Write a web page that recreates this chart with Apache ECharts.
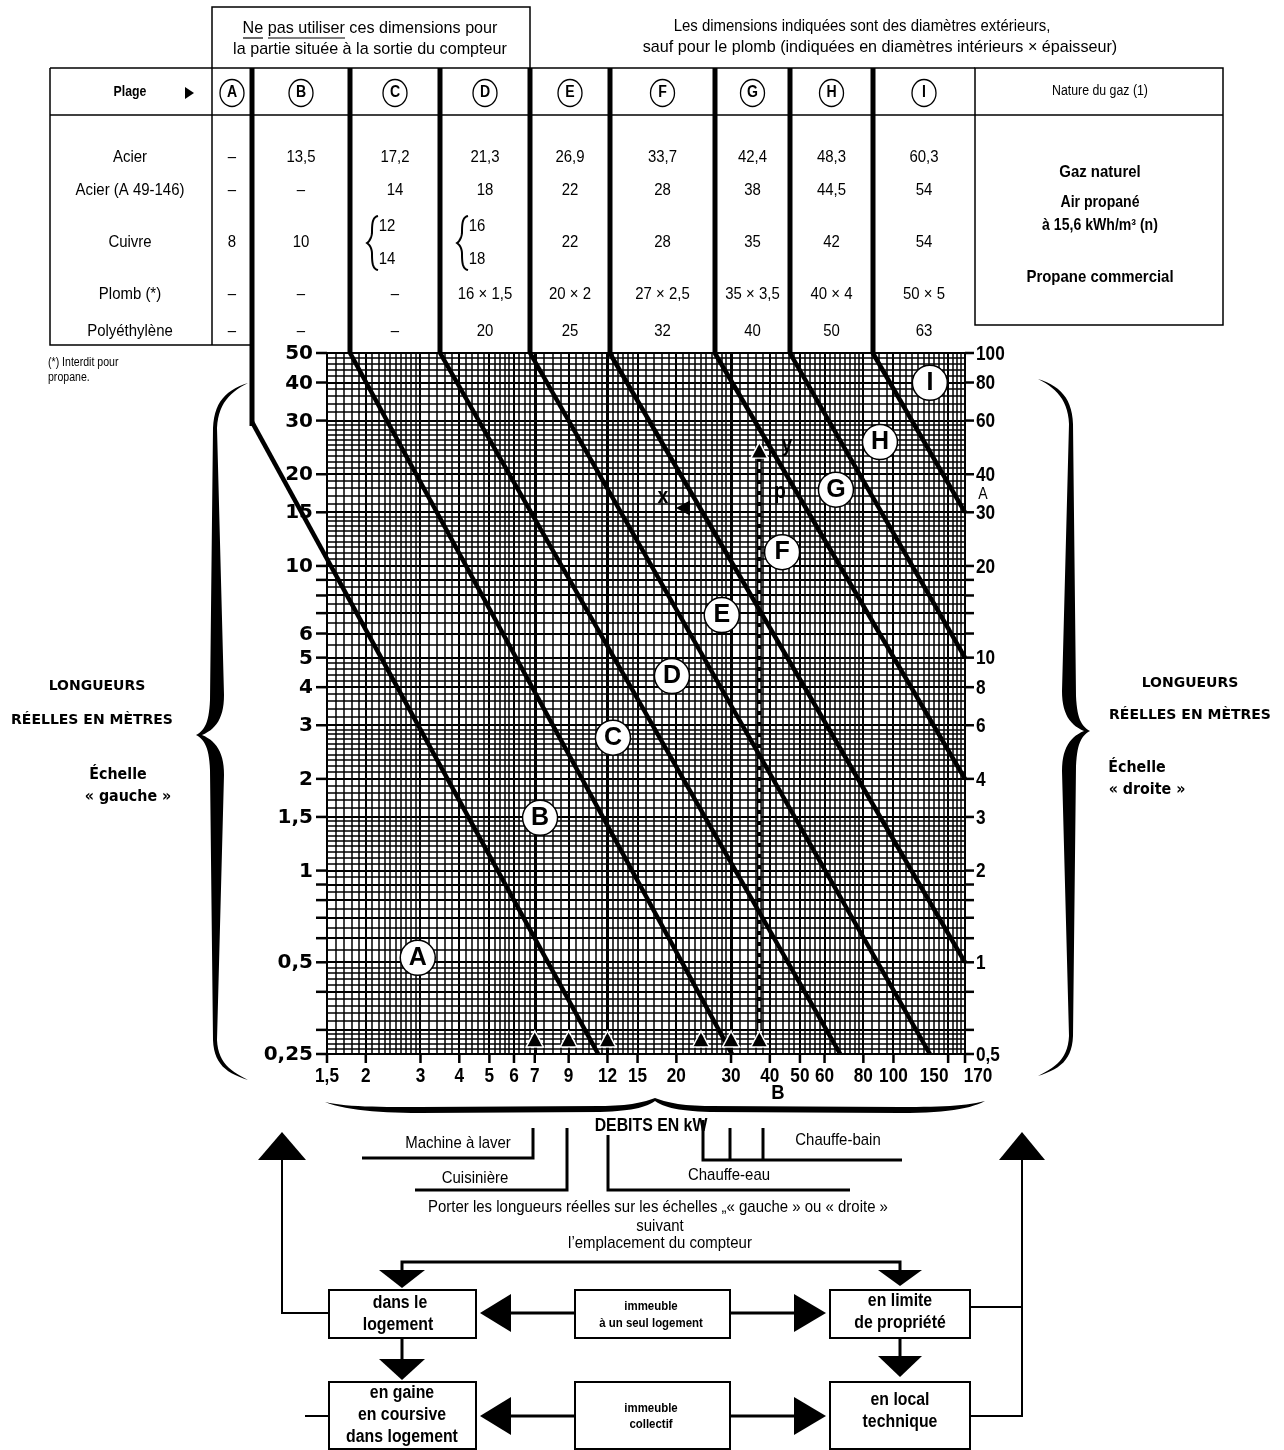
<!DOCTYPE html>
<html>
<head>
<meta charset="utf-8">
<script src="https://cdn.jsdelivr.net/npm/echarts@6/dist/echarts.min.js"></script>
<style>
html, body { margin: 0; padding: 0; background: #fff; }
#main { width: 1284px; height: 1450px; }
</style>
</head>
<body>
<div id="main"></div>
<script>
const xTickLabels = [1.5, 2, 3, 4, 5, 6, 7, 9, 12, 15, 20, 30, 40, 50, 60, 80, 100, 150, 170];
const xHeavyLines = [7, 12, 30];
const xMinorGrid = [1.6, 1.7, 1.8, 1.9, 2.1, 2.2, 2.3, 2.4, 2.5, 2.6, 2.7, 2.8, 2.9,
  3.2, 3.4, 3.6, 3.8, 4.2, 4.4, 4.6, 4.8, 5.2, 5.4, 5.6, 5.8, 6.25, 6.5, 6.75,
  7.5, 8, 8.5, 9.5, 10, 10.5, 11, 11.5, 12.5, 13, 13.5, 14, 14.5, 16, 17, 18, 19,
  21, 22, 23, 24, 25, 26, 27, 28, 29, 32, 34, 36, 38, 42, 44, 46, 48, 52, 54, 56, 58,
  62.5, 65, 67.5, 70, 72.5, 75, 77.5, 85, 90, 95, 105, 110, 115, 120, 125, 130, 135, 140, 145,
  155, 160, 165];

const yLeftTicks = [50, 40, 30, 20, 15, 10, 9, 8, 7, 6, 5, 4, 3, 2, 1.5, 1, 0.9, 0.8, 0.7, 0.6, 0.5, 0.4, 0.3, 0.25];
const yLeftLabels = [50, 40, 30, 20, 15, 10, 6, 5, 4, 3, 2, 1.5, 1, 0.5, 0.25];
const yRightTicks = [100, 80, 60, 40, 30, 20, 18, 16, 14, 12, 10, 8, 6, 4, 3, 2, 1.8, 1.6, 1.4, 1.2, 1, 0.8, 0.6, 0.5];
const yRightLabels = [100, 80, 60, 40, 30, 20, 10, 8, 6, 4, 3, 2, 1, 0.5];
const yMinorGrid = [48, 46, 44, 42, 38, 36, 34, 32, 29, 28, 27, 26, 25, 24, 23, 22, 21,
  19, 18, 17, 16, 14.5, 14, 13.5, 13, 12.5, 12, 11.5, 11, 10.5, 9.5, 8.5, 7.5, 6.5, 5.5,
  4.8, 4.6, 4.4, 4.2, 3.8, 3.6, 3.4, 3.2, 2.9, 2.8, 2.7, 2.6, 2.5, 2.4, 2.3, 2.2, 2.1,
  1.9, 1.8, 1.7, 1.6, 1.45, 1.4, 1.35, 1.3, 1.25, 1.2, 1.15, 1.1, 1.05,
  0.95, 0.85, 0.75, 0.65, 0.55, 0.48, 0.46, 0.44, 0.42, 0.38, 0.36, 0.34, 0.32, 0.29, 0.28, 0.27, 0.26];

// limites de plages (débit kW, longueur m échelle gauche)
const limitStart = [[0.86, 29.7], [1.78, 50], [3.47, 50], [6.76, 50], [12.2, 50], [26.6, 50], [46.4, 50], [85.8, 50]];
const limitEnd = [[11.2, 0.25], [30.2, 0.25], [67.4, 0.25], [131, 0.25], [170, 0.5], [170, 2], [170, 5], [170, 15]];

const zoneLetters = ['A', 'B', 'C', 'D', 'E', 'F', 'G', 'H', 'I'];
const zoneX = [2.94, 7.28, 12.5, 19.35, 28.0, 43.8, 65.3, 90.5, 131];
const zoneY = [0.517, 1.49, 2.73, 4.35, 6.9, 11.1, 17.8, 25.5, 39.9];

const applianceKW = [7, 9, 12, 24, 30, 37];
const exampleKW = 37;
const exampleLength = [0.3, 23];
const exampleArrowLeft = [21, 15.5];

// tableau des diamètres
const tableRows = ['Acier', 'Acier (A 49-146)', 'Cuivre', 'Plomb (*)', 'Polyéthylène'];
const acier = ['–', '13,5', '17,2', '21,3', '26,9', '33,7', '42,4', '48,3', '60,3'];
const acierA49 = ['–', '–', '14', '18', '22', '28', '38', '44,5', '54'];
const cuivre = ['8', '10', ['12', '14'], ['16', '18'], '22', '28', '35', '42', '54'];
const plomb = ['–', '–', '–', '16 × 1,5', '20 × 2', '27 × 2,5', '35 × 3,5', '40 × 4', '50 × 5'];
const polyethylene = ['–', '–', '–', '20', '25', '32', '40', '50', '63'];
const gasTypes = ['Gaz naturel', 'Air propané', 'à 15,6 kWh/m³ (n)', 'Propane commercial'];

const X_MIN = 1.5, X_MAX = 170, YL_MIN = 0.25, YL_MAX = 50, YR_MIN = 0.5, YR_MAX = 100;
const NARROW = "'Liberation Sans', Arial, sans-serif";
const HEAVY = "'DejaVu Sans', 'Liberation Sans', sans-serif";
const labelShift = { 150: -14, 170: 13 };

function fmt(v) { return String(v).replace('.', ','); }
function crisp(v, w) { return w % 2 === 1 ? Math.round(v) + 0.5 : Math.round(v); }

// ---- séries du quadrillage / graduations
function gridSeries(values, vertical, width) {
  return {
    type: 'custom', silent: true, clip: false, z: 1,
    data: values.map(v => vertical ? [v, YL_MIN] : [X_MIN, v]),
    renderItem: function (params, api) {
      const v = api.value(vertical ? 0 : 1);
      const a = vertical ? api.coord([v, YL_MIN]) : api.coord([X_MIN, v]);
      const b = vertical ? api.coord([v, YL_MAX]) : api.coord([X_MAX, v]);
      const shape = vertical
        ? { x1: crisp(a[0], width), y1: a[1], x2: crisp(a[0], width), y2: b[1] }
        : { x1: a[0], y1: crisp(a[1], width), x2: b[0], y2: crisp(a[1], width) };
      return { type: 'line', shape: shape, style: { stroke: '#000', lineWidth: width } };
    }
  };
}

function tickSeries(values, side) {
  const s = {
    type: 'custom', silent: true, clip: false, z: 3,
    data: values.map(v => side === 'bottom' ? [v, YL_MIN] : side === 'left' ? [X_MIN, v] : [X_MAX, v]),
    renderItem: function (params, api) {
      const p = api.coord([api.value(0), api.value(1)]);
      let shape;
      if (side === 'left') shape = { x1: p[0] - 11, y1: p[1], x2: p[0], y2: p[1] };
      else if (side === 'right') shape = { x1: p[0], y1: p[1], x2: p[0] + 9, y2: p[1] };
      else shape = { x1: p[0], y1: p[1], x2: p[0], y2: p[1] + 9 };
      return { type: 'line', shape: shape, style: { stroke: '#000', lineWidth: 2.5 } };
    }
  };
  if (side === 'right') s.yAxisIndex = 1;
  return s;
}

function labelSeries(values, side) {
  const s = {
    type: 'custom', silent: true, clip: false, z: 3,
    data: values.map(v => side === 'bottom' ? [v, YL_MIN] : side === 'left' ? [X_MIN, v] : [X_MAX, v]),
    renderItem: function (params, api) {
      const v = side === 'bottom' ? api.value(0) : api.value(1);
      const p = api.coord([api.value(0), api.value(1)]);
      if (side === 'left') {
        return { type: 'text', x: p[0] - 14, y: p[1] + 1,
          style: { text: fmt(v), font: 'bold 20px ' + HEAVY, fill: '#000', align: 'right', textAlign: 'right', verticalAlign: 'middle', textVerticalAlign: 'middle' } };
      }
      if (side === 'right') {
        return { type: 'text', x: p[0] + 11, y: p[1] + 1, scaleX: 0.82,
          style: { text: fmt(v), font: 'bold 21px ' + NARROW, fill: '#000', align: 'left', textAlign: 'left', verticalAlign: 'middle', textVerticalAlign: 'middle' } };
      }
      return { type: 'text', x: p[0] + (labelShift[v] || 0), y: p[1] + 22, scaleX: 0.82,
        style: { text: fmt(v), font: 'bold 21px ' + NARROW, fill: '#000', align: 'center', textAlign: 'center', verticalAlign: 'middle', textVerticalAlign: 'middle' } };
    }
  };
  if (side === 'right') s.yAxisIndex = 1;
  return s;
}

const series = [
  gridSeries(xMinorGrid, true, 1.5),
  gridSeries(yMinorGrid, false, 1.5),
  gridSeries(xTickLabels, true, 2),
  gridSeries(yLeftTicks, false, 2),
  gridSeries(xHeavyLines, true, 3),
  tickSeries(yLeftTicks, 'left'),
  tickSeries(yRightTicks, 'right'),
  tickSeries(xTickLabels, 'bottom'),
  labelSeries(yLeftLabels, 'left'),
  labelSeries(yRightLabels, 'right'),
  labelSeries(xTickLabels, 'bottom')
];

// exemple : trait vertical pointillé
series.push({ type: 'line', silent: true, z: 4, symbol: 'none', clip: false,
  data: [[exampleKW, exampleLength[0]], [exampleKW, exampleLength[1]]],
  lineStyle: { color: '#000', width: 5 } });
series.push({ type: 'line', silent: true, z: 4, symbol: 'none', clip: false,
  data: [[exampleKW, exampleLength[0]], [exampleKW, exampleLength[1]]],
  lineStyle: { color: '#fff', width: 2, type: [7, 4] } });

// limites de plages (custom pour pouvoir sortir du cadre)
series.push({
  type: 'custom', silent: true, clip: false, z: 5,
  data: limitStart.map((s, i) => [s[0], s[1], limitEnd[i][0], limitEnd[i][1]]),
  renderItem: function (params, api) {
    const a = api.coord([api.value(0), api.value(1)]);
    const b = api.coord([api.value(2), api.value(3)]);
    return { type: 'line', shape: { x1: a[0], y1: a[1], x2: b[0], y2: b[1] },
      style: { stroke: '#000', lineWidth: 4.5 } };
  }
});

series.push({ type: 'scatter', silent: true, z: 8, symbol: 'triangle', symbolSize: [17, 16],
  itemStyle: { color: '#000', borderColor: '#fff', borderWidth: 1.5, opacity: 1 },
  data: applianceKW.map(v => [v, 0.28]).concat([[exampleKW, exampleLength[1] + 1]]) });
series.push({ type: 'scatter', silent: true, z: 8, symbol: 'triangle', symbolSize: [15, 14], symbolRotate: 90,
  itemStyle: { color: '#000', opacity: 1 }, data: [exampleArrowLeft] });

series.push({ type: 'scatter', silent: true, z: 9, symbol: 'circle', symbolSize: 35,
  itemStyle: { color: '#fff', borderColor: '#000', borderWidth: 1.5, opacity: 1 },
  label: { show: true, position: 'inside', formatter: p => p.value[2], color: '#000',
    fontFamily: NARROW, fontWeight: 'bold', fontSize: 25 },
  data: zoneX.map((x, i) => [x, zoneY[i], zoneLetters[i]]) });

// ---- éléments graphiques (tableau, accolades, organigramme)
const g = [];
function T(s, x, y, size, o) {
  o = o || {};
  g.push({ type: 'text', x: x, y: y, scaleX: o.sx == null ? 0.88 : o.sx, silent: true, z: 50,
    style: { text: s, fill: '#000', font: (o.bold ? 'bold ' : '') + size + 'px ' + (o.family || NARROW),
      align: o.align || 'center', textAlign: o.align || 'center', verticalAlign: 'middle', textVerticalAlign: 'middle' } });
}
function PL(points, w) {
  g.push({ type: 'polyline', silent: true, z: 50, shape: { points: points },
    style: { stroke: '#000', lineWidth: w || 1.5, fill: null } });
}
function PG(points) {
  g.push({ type: 'polygon', silent: true, z: 50, shape: { points: points }, style: { fill: '#000' } });
}
function RC(x, y, w, h, lw) {
  g.push({ type: 'rect', silent: true, z: 49, shape: { x: x, y: y, width: w, height: h },
    style: { fill: '#fff', stroke: '#000', lineWidth: lw || 2 } });
}
function bez(a, b, c, d, n) {
  const pts = [];
  for (let i = 0; i <= n; i++) {
    const t = i / n, u = 1 - t;
    pts.push([u * u * u * a[0] + 3 * u * u * t * b[0] + 3 * u * t * t * c[0] + t * t * t * d[0],
      u * u * u * a[1] + 3 * u * u * t * b[1] + 3 * u * t * t * c[1] + t * t * t * d[1]]);
  }
  return pts;
}
function outline(segs) {
  let pts = [];
  segs.forEach(s => { pts = pts.concat(s.length === 4 ? bez(s[0], s[1], s[2], s[3], 14) : s); });
  return pts;
}

// accolade gauche / droite
const leftBrace = outline([
  [[248, 383], [226, 390], [214, 402], [213, 428]],
  [[213, 428], [210, 700]],
  [[210, 700], [209, 722], [205, 730], [196, 735]],
  [[196, 735], [205, 740], [209, 748], [210, 770]],
  [[210, 770], [213, 1040]],
  [[213, 1040], [214, 1064], [226, 1073], [248, 1080]],
  [[248, 1080], [230, 1071], [218, 1062], [217, 1040]],
  [[217, 1040], [224, 775]],
  [[224, 775], [224, 752], [216, 741], [202, 735]],
  [[202, 735], [216, 729], [224, 718], [224, 695]],
  [[224, 695], [217, 428]],
  [[217, 428], [218, 404], [230, 392], [248, 383]]
]);
PG(leftBrace);
PG(leftBrace.map(p => [1286 - p[0], p[1] - 4]));
// accolade horizontale sous l'axe
PG(outline([
  [[325, 1102], [345, 1110], [380, 1113], [420, 1113]],
  [[420, 1113], [600, 1112]],
  [[600, 1112], [630, 1111], [645, 1108], [655, 1101]],
  [[655, 1101], [665, 1108], [680, 1111], [710, 1112]],
  [[710, 1112], [900, 1113]],
  [[900, 1113], [945, 1113], [970, 1109], [985, 1101]],
  [[985, 1101], [965, 1106], [940, 1107], [900, 1107]],
  [[900, 1107], [710, 1106]],
  [[710, 1106], [685, 1106], [668, 1103], [655, 1098]],
  [[655, 1098], [642, 1103], [625, 1106], [600, 1106]],
  [[600, 1106], [420, 1107]],
  [[420, 1107], [380, 1107], [345, 1107], [325, 1102]]
]));

// en-têtes
PL([[212, 68], [212, 7], [530, 7], [530, 68]], 1.5);
T('Ne pas utiliser ces dimensions pour', 370, 28, 17, { sx: 0.95 });
T('la partie située à la sortie du compteur', 370, 49, 17, { sx: 0.95 });
PL([[243, 38], [263, 38]], 1.2);
PL([[268, 38], [345, 38]], 1.2);
T('Les dimensions indiquées sont des diamètres extérieurs,', 862, 26, 17);
T('sauf pour le plomb (indiquées en diamètres intérieurs × épaisseur)', 880, 47, 17, { sx: 0.95 });

// tableau
const colB = [212, 252, 350, 440, 530, 610, 715, 790, 873, 975];
const colC = zoneLetters.map((l, i) => (colB[i] + colB[i + 1]) / 2);
PL([[50, 68], [975, 68]]);
PL([[50, 115], [975, 115]]);
PL([[50, 68], [50, 345], [252, 345]]);
PL([[212, 68], [212, 345]]);
RC(975, 68, 248, 257, 1.5);
PL([[975, 115], [1223, 115]]);
[350, 440, 530, 610, 715, 790, 873].forEach(x => PL([[x, 68], [x, 354]], 5));
PL([[252, 68], [252, 426]], 5);

T('Plage', 130, 92, 14, { bold: true });
PG([[185, 87], [185, 99], [194, 93]]);
zoneLetters.forEach(function (l, i) {
  g.push({ type: 'circle', silent: true, z: 50, x: colC[i], y: 93, scaleY: 1.12,
    shape: { cx: 0, cy: 0, r: 12 }, style: { fill: '#fff', stroke: '#000', lineWidth: 1.3 } });
  T(l, colC[i], 93, 16, { bold: true });
});
T('Nature du gaz (1)', 1100, 91, 14);

const rowY = [157, 190, 242, 294, 331];
tableRows.forEach((r, i) => T(r, 130, rowY[i], 17));
[acier, acierA49, cuivre, plomb, polyethylene].forEach(function (row, ri) {
  row.forEach(function (v, ci) {
    if (Array.isArray(v)) {
      T(v[0], colC[ci] - 8, 226, 17);
      T(v[1], colC[ci] - 8, 259, 17);
      const bx = colC[ci] - 25;
      PL(outline([[[bx + 8, 216], [bx + 3, 217], [bx + 2, 222], [bx + 2, 232]],
        [[bx + 2, 232], [bx + 2, 236], [bx, 241], [bx - 3, 243]],
        [[bx - 3, 243], [bx, 245], [bx + 2, 249], [bx + 2, 254]],
        [[bx + 2, 254], [bx + 2, 264], [bx + 3, 269], [bx + 8, 270]]]), 2);
    } else {
      T(v, colC[ci], rowY[ri], 17);
    }
  });
});
T(gasTypes[0], 1100, 172, 17, { bold: true });
T(gasTypes[1], 1100, 203, 16, { bold: true });
T(gasTypes[2], 1100, 226, 16, { bold: true });
T(gasTypes[3], 1100, 277, 17, { bold: true });
T('(*) Interdit pour', 48, 363, 12, { align: 'left' });
T('propane.', 48, 378, 12, { align: 'left' });

// textes latéraux
T('LONGUEURS', 97, 686, 14, { bold: true, family: HEAVY, sx: 1 });
T('RÉELLES EN MÈTRES', 92, 720, 14, { bold: true, family: HEAVY, sx: 1 });
T('Échelle', 118, 775, 15, { bold: true, family: HEAVY, sx: 0.95 });
T('« gauche »', 128, 797, 15, { bold: true, family: HEAVY, sx: 0.95 });
T('LONGUEURS', 1190, 683, 14, { bold: true, family: HEAVY, sx: 1 });
T('RÉELLES EN MÈTRES', 1190, 715, 14, { bold: true, family: HEAVY, sx: 1 });
T('Échelle', 1137, 768, 15, { bold: true, family: HEAVY, sx: 0.95 });
T('« droite »', 1147, 790, 15, { bold: true, family: HEAVY, sx: 0.95 });

// annotations de l'exemple
T('x', 663, 497, 22, { bold: true });
T('y', 787, 445, 22, { bold: true });
T('p', 780, 492, 22, { bold: true });
T('A', 983, 495, 16);
T('B', 778, 1093, 21, { bold: true });

// appareils
T('DEBITS EN kW', 651, 1126, 18, { bold: true });
T('Machine à laver', 458, 1143, 17);
PL([[362, 1158], [533, 1158], [533, 1128]], 3);
T('Cuisinière', 475, 1178, 17);
PL([[415, 1190], [567, 1190], [567, 1128]], 3);
T('Chauffe-eau', 729, 1175, 17);
PL([[608, 1135], [608, 1190], [850, 1190]], 3);
T('Chauffe-bain', 838, 1140, 17);
PL([[703, 1120], [703, 1160], [902, 1160]], 3);
PL([[730, 1128], [730, 1160]], 3);
PL([[763, 1128], [763, 1160]], 3);
T('Porter les longueurs réelles sur les échelles „« gauche » ou « droite »', 658, 1207, 17);
T('suivant', 660, 1226, 17);
T('l’emplacement du compteur', 660, 1243, 17);

// organigramme
PL([[402, 1272], [402, 1262], [900, 1262], [900, 1272]], 3);
PG([[379, 1270], [425, 1270], [402, 1288]]);
PG([[878, 1270], [922, 1270], [900, 1286]]);
RC(329, 1290, 147, 48);
RC(575, 1290, 155, 48);
RC(830, 1290, 140, 48);
T('dans le', 400, 1303, 18, { bold: true });
T('logement', 398, 1325, 18, { bold: true });
T('immeuble', 651, 1306, 13, { bold: true });
T('à un seul logement', 651, 1323, 13, { bold: true });
T('en limite', 900, 1301, 18, { bold: true });
T('de propriété', 900, 1323, 18, { bold: true });
PL([[510, 1313], [575, 1313]], 3);
PG([[480, 1313], [511, 1294], [511, 1332]]);
PL([[730, 1313], [795, 1313]], 3);
PG([[826, 1313], [794, 1294], [794, 1332]]);
PL([[402, 1338], [402, 1360]], 3);
PG([[379, 1359], [425, 1359], [402, 1380]]);
PL([[900, 1338], [900, 1357]], 3);
PG([[878, 1356], [922, 1356], [900, 1377]]);
RC(329, 1382, 147, 67);
RC(575, 1382, 155, 67);
RC(830, 1382, 140, 67);
T('en gaine', 402, 1393, 18, { bold: true });
T('en coursive', 402, 1415, 18, { bold: true });
T('dans logement', 402, 1437, 18, { bold: true });
T('immeuble', 651, 1408, 13, { bold: true });
T('collectif', 651, 1424, 13, { bold: true });
T('en local', 900, 1400, 18, { bold: true });
T('technique', 900, 1422, 18, { bold: true });
PL([[510, 1416], [575, 1416]], 3);
PG([[480, 1416], [511, 1397], [511, 1435]]);
PL([[730, 1416], [795, 1416]], 3);
PG([[826, 1416], [794, 1397], [794, 1435]]);
PL([[305, 1416], [329, 1416]], 2);
PL([[329, 1313], [282, 1313], [282, 1158]], 2);
PG([[258, 1160], [306, 1160], [282, 1132]]);
PL([[970, 1307], [1022, 1307]], 2);
PL([[970, 1416], [1022, 1416], [1022, 1158]], 2);
PG([[999, 1160], [1045, 1160], [1022, 1132]]);

const chart = echarts.init(document.getElementById('main'));
chart.setOption({
  animation: false,
  backgroundColor: '#fff',
  grid: { left: 327, top: 353, width: 638, height: 701 },
  xAxis: { type: 'log', min: X_MIN, max: X_MAX, show: false },
  yAxis: [
    { type: 'log', min: YL_MIN, max: YL_MAX, show: false },
    { type: 'log', min: YR_MIN, max: YR_MAX, show: false }
  ],
  graphic: { elements: g },
  series: series
});
</script>
</body>
</html>
